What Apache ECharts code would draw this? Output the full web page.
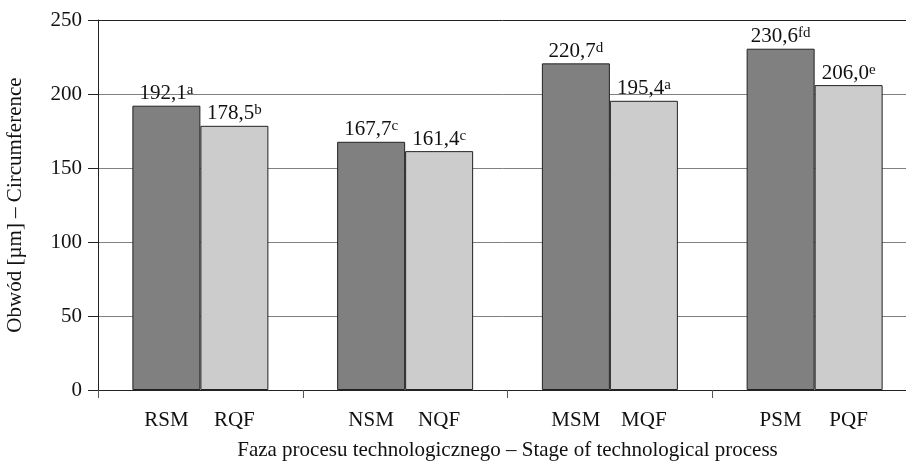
<!DOCTYPE html>
<html>
<head>
<meta charset="utf-8">
<script src="https://cdn.jsdelivr.net/npm/echarts@6/dist/echarts.min.js"></script>
<style>
html,body{margin:0;padding:0;background:#fff;}
#chart{width:906px;height:465px;}
</style>
</head>
<body>
<div id="chart"></div>
<script>
const groups = ['R', 'N', 'M', 'P'];
const smLabels = ['RSM', 'NSM', 'MSM', 'PSM'];
const qfLabels = ['RQF', 'NQF', 'MQF', 'PQF'];
const smValues = [192.1, 167.7, 220.7, 230.6];
const qfValues = [178.5, 161.4, 195.4, 206.0];
const smLetters = ['a', 'c', 'd', 'fd'];
const qfLetters = ['b', 'c', 'a', 'e'];
const yMin = 0, yMax = 250, yStep = 50;

const FONT = '"Liberation Serif", "DejaVu Serif", serif';
const FS = 21;
const fmt = v => v.toFixed(1).replace('.', ',');

function valueLabel(letters) {
  return {
    show: true,
    position: 'top',
    distance: 1,
    formatter: p => `{v|${fmt(p.value)}}{s|${letters[p.dataIndex]}}`,
    rich: {
      v: { fontFamily: FONT, fontSize: FS, color: '#111', lineHeight: 22 },
      s: { fontFamily: FONT, fontSize: 15, color: '#111', verticalAlign: 'top', lineHeight: 12 }
    }
  };
}

const chart = echarts.init(document.getElementById('chart'), null, { renderer: 'canvas' });
chart.setOption({
  animation: false,
  backgroundColor: '#fff',
  grid: { left: 98, right: -11, top: 20, bottom: 75, containLabel: false, outerBoundsMode: 'none' },
  xAxis: {
    type: 'category',
    data: groups,
    axisLine: { lineStyle: { color: '#222', width: 1 } },
    axisTick: { show: true, length: 8, lineStyle: { color: '#555' } },
    axisLabel: {
      margin: 20,
      formatter: (v, i) => `{a|${smLabels[i]}}{b|${qfLabels[i]}}`,
      rich: {
        a: { fontFamily: FONT, fontSize: FS, color: '#111', width: 68, align: 'center' },
        b: { fontFamily: FONT, fontSize: FS, color: '#111', width: 68, align: 'center' }
      }
    },
    name: 'Faza procesu technologicznego – Stage of technological process',
    nameLocation: 'middle',
    nameGap: 50,
    nameTextStyle: { fontFamily: FONT, fontSize: FS, color: '#111' }
  },
  yAxis: {
    type: 'value',
    min: yMin, max: yMax, interval: yStep,
    axisLine: { show: true, lineStyle: { color: '#222', width: 1 } },
    axisTick: { show: true, length: 10, lineStyle: { color: ['#808080'] } },
    axisLabel: { fontFamily: FONT, fontSize: FS, color: '#111', margin: 16 },
    splitLine: { show: true, lineStyle: { color: ['#808080', '#808080', '#808080', '#808080', '#808080', '#222'], width: 1 } },
    name: 'Obwód [µm] – Circumference',
    nameLocation: 'middle',
    nameGap: 72,
    nameTextStyle: { fontFamily: FONT, fontSize: FS, color: '#111' }
  },
  series: [
    {
      type: 'bar',
      data: smValues,
      barWidth: 68,
      barGap: '0%',
      itemStyle: { color: '#808080', borderColor: '#222', borderWidth: 1 },
      label: valueLabel(smLetters)
    },
    {
      type: 'bar',
      data: qfValues,
      barWidth: 68,
      itemStyle: { color: '#cccccc', borderColor: '#222', borderWidth: 1 },
      label: valueLabel(qfLetters)
    }
  ]
});
</script>
</body>
</html>
